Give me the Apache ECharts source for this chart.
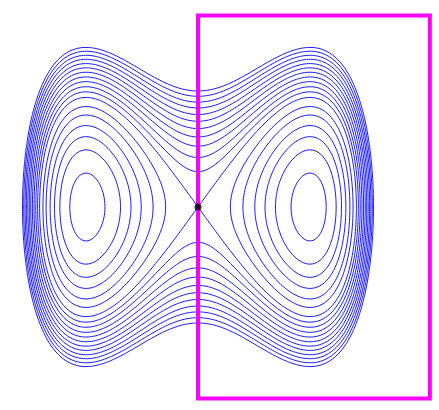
<!DOCTYPE html>
<html>
<head>
<meta charset="utf-8">
<script src="https://cdn.jsdelivr.net/npm/echarts@6/dist/echarts.min.js"></script>
<style>
html,body{margin:0;padding:0;background:#fff;}
#chart{width:439px;height:410px;}
</style>
</head>
<body>
<div id="chart"></div>
<script>
// Energy levels of H(x, y) = y^2/2 - x^2/2 + x^4/4
const innerLevels = [-0.226, -0.182, -0.147, -0.112, -0.074, -0.040];
const separatrixLevels = [0];
const outerLevels = [0.026, 0.051, 0.077, 0.102, 0.128, 0.153, 0.178, 0.204, 0.229, 0.255, 0.280];
// Magenta box corners (data units)
const boxX = [0, 2.07];
const boxY = [-1.235, 1.235];
// Saddle point
const saddle = [0, 0];

function V(x) { return x * x * x * x / 4 - x * x / 2; }
function yOf(c, x) { const v = 2 * (c - V(x)); return v > 0 ? Math.sqrt(v) : 0; }

function closedCurve(c, xa, xb, N) {
  const top = [], bot = [];
  for (let i = 0; i <= N; i++) {
    const t = Math.PI * i / N;
    const x = (xa + xb) / 2 - (xb - xa) / 2 * Math.cos(t);
    const y = yOf(c, x);
    top.push([x, y]);
    bot.push([x, -y]);
  }
  return top.concat(bot.reverse());
}

const series = [];
function addCurve(pts) {
  series.push({
    type: 'line', data: pts, showSymbol: false, symbol: 'none', smooth: false,
    lineStyle: { color: '#0000ff', width: 0.9 }, silent: true, z: 2, animation: false
  });
}

outerLevels.forEach(c => {
  const xm = Math.sqrt(1 + Math.sqrt(1 + 4 * c));
  addCurve(closedCurve(c, -xm, xm, 400));
});
separatrixLevels.forEach(c => {
  const xm = Math.sqrt(1 + Math.sqrt(1 + 4 * c));
  addCurve(closedCurve(c, 0, xm, 300));
  addCurve(closedCurve(c, -xm, 0, 300));
});
innerLevels.forEach(c => {
  const s = Math.sqrt(1 + 4 * c);
  const xi = Math.sqrt(1 - s), xo = Math.sqrt(1 + s);
  addCurve(closedCurve(c, xi, xo, 200));
  addCurve(closedCurve(c, -xo, -xi, 200));
});

series.push({
  type: 'line',
  data: [[boxX[0], boxY[0]], [boxX[1], boxY[0]], [boxX[1], boxY[1]], [boxX[0], boxY[1]], [boxX[0], boxY[0]]],
  showSymbol: false, symbol: 'none',
  lineStyle: { color: '#ff00ff', width: 4, join: 'miter', cap: 'square' },
  silent: true, z: 3, animation: false
});
series.push({
  type: 'scatter', data: [saddle], symbol: 'circle', symbolSize: 7,
  itemStyle: { color: '#000000' }, silent: true, z: 4, animation: false
});

const chart = echarts.init(document.getElementById('chart'), null, { renderer: 'canvas' });
chart.setOption({
  animation: false,
  backgroundColor: '#ffffff',
  grid: { left: 2, top: 5.5, width: 431.2, height: 403, containLabel: false },
  xAxis: { type: 'value', min: -1.75, max: 2.1, show: false },
  yAxis: { type: 'value', min: -1.3, max: 1.3, show: false },
  series: series
});
</script>
</body>
</html>
